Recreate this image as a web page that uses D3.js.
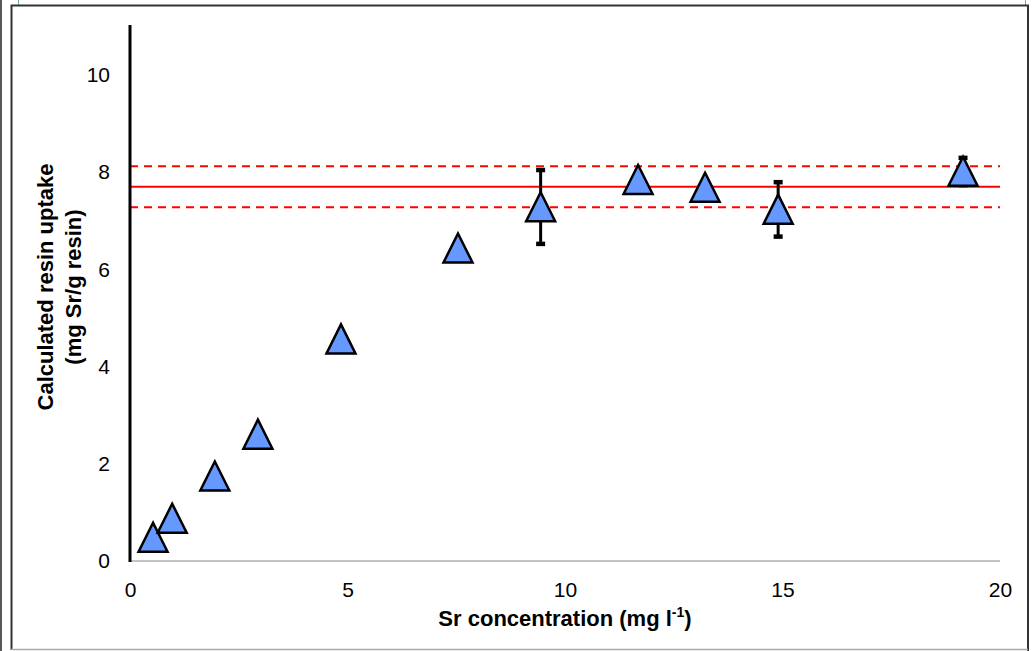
<!DOCTYPE html>
<html>
<head>
<meta charset="utf-8">
<script src="https://cdn.jsdelivr.net/npm/d3@7"></script>
<style>
  html, body { margin: 0; padding: 0; background: #fff; }
  svg { display: block; font-family: "Liberation Sans", Arial, sans-serif; }
</style>
</head>
<body>
<svg id="chart" width="1033" height="651"></svg>
<script>
// Sr concentration (mg l-1) and calculated resin uptake (mg Sr / g resin)
const concentration = [0.53, 0.97, 1.95, 2.94, 4.85, 7.54, 9.44, 11.68, 13.22, 14.9, 19.15];
const uptake        = [0.49, 0.88, 1.75, 2.61, 4.57, 6.44, 7.29, 7.85, 7.69, 7.24, 8.02];
const uptakeError   = [0,    0,    0,    0,    0,    0,    0.76, 0,    0,    0.56, 0.28];

// Plateau capacity: mean and its +/- band
const plateauMean = 7.70;
const plateauBand = 0.42;

const xTicks = [0, 5, 10, 15, 20];
const yTicks = [0, 2, 4, 6, 8, 10];

const svg = d3.select("#chart");

// Outer frame
svg.append("line").attr("x1", 1).attr("x2", 1).attr("y1", 0).attr("y2", 651)
  .attr("stroke", "#222").attr("stroke-width", 1.5);
svg.append("line").attr("x1", 18.5).attr("x2", 18.5).attr("y1", 0).attr("y2", 5)
  .attr("stroke", "#7aa7a7").attr("stroke-width", 1);
svg.append("line").attr("x1", 1025.5).attr("x2", 1025.5).attr("y1", 0).attr("y2", 5)
  .attr("stroke", "#7aa7a7").attr("stroke-width", 1);
svg.append("path")
  .attr("d", "M11.5,650 L11.5,5.5 L1028,5.5 L1028,651")
  .attr("fill", "none").attr("stroke", "#333").attr("stroke-width", 2);
svg.append("line").attr("x1", 11).attr("x2", 1028).attr("y1", 649.5).attr("y2", 649.5)
  .attr("stroke", "#aaa").attr("stroke-width", 1.5);

const x = d3.scaleLinear().domain([0, 20]).range([130, 1000]);
const y = d3.scaleLinear().domain([0, 10]).range([561, 75]);

// X axis: thin grey baseline, labels only
svg.append("line")
  .attr("x1", x(0)).attr("x2", x(20)).attr("y1", y(0)).attr("y2", y(0))
  .attr("stroke", "#888").attr("stroke-width", 1.2);

const xAxis = svg.append("g")
  .attr("transform", `translate(0,${y(0)})`)
  .call(d3.axisBottom(x).tickValues(xTicks).tickSize(0).tickPadding(21).tickFormat(d3.format("d")));
xAxis.select(".domain").remove();
xAxis.attr("font-size", 21).attr("font-family", "Liberation Sans, Arial, sans-serif");
xAxis.selectAll("text").attr("fill", "#000");

// Y axis labels
const yAxis = svg.append("g")
  .attr("transform", `translate(${x(0)},0)`)
  .call(d3.axisLeft(y).tickValues(yTicks).tickSize(0).tickPadding(20).tickFormat(d3.format("d")));
yAxis.select(".domain").remove();
yAxis.attr("font-size", 21).attr("font-family", "Liberation Sans, Arial, sans-serif");
yAxis.selectAll("text").attr("fill", "#000");

// Plateau lines
const lineSpan = [x(0), x(20)];
svg.append("line")
  .attr("x1", lineSpan[0]).attr("x2", lineSpan[1])
  .attr("y1", y(plateauMean)).attr("y2", y(plateauMean))
  .attr("stroke", "#ff0000").attr("stroke-width", 2);
[plateauMean + plateauBand, plateauMean - plateauBand].forEach(v => {
  svg.append("line")
    .attr("x1", lineSpan[0]).attr("x2", lineSpan[1])
    .attr("y1", y(v)).attr("y2", y(v))
    .attr("stroke", "#ff0000").attr("stroke-width", 2)
    .attr("stroke-dasharray", "8,6");
});

// Y axis line (thick black, above the lines)
svg.append("line")
  .attr("x1", x(0)).attr("x2", x(0)).attr("y1", 25).attr("y2", y(0) + 1)
  .attr("stroke", "#000").attr("stroke-width", 3);

const data = concentration.map((c, i) => ({ c, u: uptake[i], e: uptakeError[i] }));

// Error bars
const eb = svg.append("g");
data.filter(d => d.e > 0).forEach(d => {
  const cx = x(d.c);
  eb.append("line").attr("x1", cx).attr("x2", cx)
    .attr("y1", y(d.u + d.e)).attr("y2", y(d.u - d.e))
    .attr("stroke", "#000").attr("stroke-width", 3);
  [d.u + d.e, d.u - d.e].forEach(v => {
    eb.append("rect").attr("x", cx - 4.5).attr("y", y(v) - 2)
      .attr("width", 9).attr("height", 4.5).attr("fill", "#000");
  });
});

// Triangle markers
const half = 14.5, ht = 29;
svg.append("g").selectAll("path").data(data).join("path")
  .attr("d", d => {
    const cx = x(d.c), cy = y(d.u);
    return `M${cx},${cy - ht / 2} L${cx + half},${cy + ht / 2} L${cx - half},${cy + ht / 2} Z`;
  })
  .attr("fill", "#6699ff").attr("stroke", "#000").attr("stroke-width", 2.5)
  .attr("stroke-linejoin", "miter");

// Axis titles
const xt = svg.append("text")
  .attr("x", 565).attr("y", 626)
  .attr("text-anchor", "middle").attr("font-size", 22).attr("font-weight", "bold");
xt.append("tspan").text("Sr concentration (mg l");
xt.append("tspan").attr("font-size", 14).attr("dy", -9).text("-1");
xt.append("tspan").attr("dy", 9).text(")");

const yt = svg.append("text")
  .attr("transform", "translate(53,287) rotate(-90)")
  .attr("text-anchor", "middle").attr("font-size", 22).attr("font-weight", "bold");
yt.append("tspan").attr("x", 0).attr("y", 0).text("Calculated resin uptake");
yt.append("tspan").attr("x", 0).attr("y", 28).text("(mg Sr/g resin)");
</script>
</body>
</html>
